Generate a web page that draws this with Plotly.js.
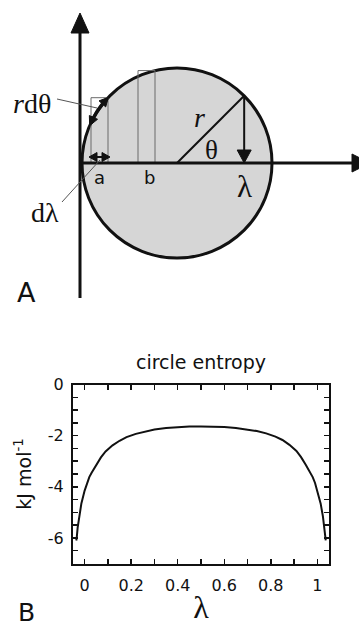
<!DOCTYPE html>
<html>
<head>
<meta charset="utf-8">
<script src="https://cdn.plot.ly/plotly-3.0.1.min.js"></script>
<style>
  html, body { margin: 0; padding: 0; background: #fff; }
  #plot { width: 359px; height: 628px; }
</style>
</head>
<body>
<div id="plot"></div>
<script>
// circle entropy curve
var lambdaVals = [-0.036, -0.034, -0.030, -0.024, -0.014, 0.000, 0.010, 0.020, 0.030, 0.040,
  0.050, 0.070, 0.090, 0.120, 0.150, 0.180, 0.220, 0.260, 0.300, 0.350, 0.400, 0.450, 0.500,
  0.550, 0.600, 0.650, 0.700, 0.740, 0.780, 0.820, 0.850, 0.880, 0.910, 0.930, 0.950, 0.960,
  0.970, 0.980, 0.990, 1.000, 1.014, 1.024, 1.030, 1.034, 1.036];
var entropyVals = [-6.10, -6.00, -5.60, -5.17, -4.65, -4.15, -3.85, -3.62, -3.45, -3.30,
  -3.15, -2.85, -2.62, -2.38, -2.20, -2.06, -1.93, -1.83, -1.76, -1.70, -1.665, -1.645, -1.64,
  -1.645, -1.665, -1.70, -1.76, -1.82, -1.91, -2.04, -2.17, -2.36, -2.60, -2.84, -3.14, -3.30,
  -3.45, -3.62, -3.85, -4.15, -4.65, -5.17, -5.60, -6.00, -6.10];

var xTickVals = [0, 0.2, 0.4, 0.6, 0.8, 1];
var xTickText = ["0", "0.2", "0.4", "0.6", "0.8", "1"];
var yTickVals = [0, -2, -4, -6];
var yTickText = ["0", "-2", "-4", "-6"];

// schematic (panel A), in page pixels
var cx = 177, cy = 163, R = 95;      // circle
var ox = 80, oy = 163;               // axes origin
var stripW = 17;
var stripA = 91, stripB = 138;       // left edges of the strips a and b

var ink = "#111";
var sans = "DejaVu Sans";
var serif = "Liberation Serif";

function circleTop(x) { return cy - Math.sqrt(R * R - (x - cx) * (x - cx)); }
function arcPt(deg) {
  var t = deg * Math.PI / 180;
  return [cx + R * Math.cos(t), cy - R * Math.sin(t)];
}
// filled triangle: tip, unit direction, length, half-width
function tri(tip, dir, L, w) {
  var bx = tip[0] - dir[0] * L, by = tip[1] - dir[1] * L;
  var px = -dir[1], py = dir[0];
  return {
    type: "path", xref: "x2", yref: "y2", layer: "above",
    path: "M" + tip[0] + "," + tip[1] + " L" + (bx + px * w) + "," + (by + py * w) +
      " L" + (bx - px * w) + "," + (by - py * w) + " Z",
    fillcolor: ink, line: {color: ink, width: 1}
  };
}
function seg(x0, y0, x1, y1, w, c) {
  return {type: "line", xref: "x2", yref: "y2", layer: "above",
    x0: x0, y0: y0, x1: x1, y1: y1, line: {color: c || ink, width: w}};
}

var shapes = [];
shapes.push({type: "circle", xref: "x2", yref: "y2", layer: "above",
  x0: cx - R, x1: cx + R, y0: cy - R, y1: cy + R,
  fillcolor: "#d6d6d6", line: {color: ink, width: 3}});
[stripA, stripB].forEach(function(x0) {
  shapes.push({type: "rect", xref: "x2", yref: "y2", layer: "above",
    x0: x0, x1: x0 + stripW, y0: circleTop(x0 + stripW), y1: oy,
    line: {color: "#6a6a6a", width: 1}});
});
// axes with arrows
shapes.push(seg(ox, oy, 352, oy, 3));
shapes.push(tri([370, oy], [1, 0], 18, 9));
shapes.push(seg(ox, 30, ox, 298, 3));
shapes.push(tri([ox, 13], [0, -1], 20, 9));
// radius and projection arrow
var p45 = arcPt(45);
shapes.push(seg(cx, cy, p45[0], p45[1], 2));
shapes.push(seg(p45[0], p45[1], p45[0], 152, 2));
shapes.push(tri([p45[0], oy], [0, 1], 13, 7));
// d-lambda double arrow
shapes.push(seg(95, 157, 105, 157, 2));
shapes.push(tri([89, 157], [-1, 0], 8, 4.5));
shapes.push(tri([110, 157], [1, 0], 8, 4.5));
// r d-theta arc arrow
var a1 = 137.7, a2 = 155.3;
var arcPath = "";
for (var d = a1; d <= a2 + 0.01; d += 0.5) {
  var q = arcPt(d);
  arcPath += (arcPath ? " L" : "M") + q[0].toFixed(2) + "," + q[1].toFixed(2);
}
shapes.push({type: "path", xref: "x2", yref: "y2", layer: "above", path: arcPath,
  line: {color: ink, width: 3.5}});
var t1 = a1 * Math.PI / 180, t2 = a2 * Math.PI / 180;
shapes.push(tri(arcPt(a1 - 1.5), [Math.sin(t1), Math.cos(t1)], 9, 4.5));
shapes.push(tri(arcPt(a2 + 1.5), [-Math.sin(t2), -Math.cos(t2)], 9, 4.5));
// leader lines
shapes.push(seg(57, 99, 97, 108, 1, "#555"));
shapes.push(seg(62, 202, 100, 160, 1, "#555"));

function lab(text, x, y, size, family) {
  return {text: text, x: x, y: y, xref: "x2", yref: "y2", showarrow: false,
    xanchor: "center", yanchor: "middle", font: {family: family, size: size, color: ink}};
}
var annotations = [
  lab("<i>r</i>dθ", 32, 103, 28, serif),
  lab("dλ", 45, 212, 28, serif),
  lab("a", 99, 177, 18, sans),
  lab("b", 149, 177, 18, sans),
  lab("<i>r</i>", 199, 117, 28, serif),
  lab("θ", 211, 150, 27, serif),
  lab("λ", 244, 186, 31, serif),
  lab("A", 26, 292, 27, sans),
  lab("B", 26, 612, 25, sans)
];

var curve = {
  x: lambdaVals, y: entropyVals, type: "scatter", mode: "lines",
  line: {color: ink, width: 2}, hoverinfo: "skip", showlegend: false
};
var canvas = {x: [], y: [], xaxis: "x2", yaxis: "y2", type: "scatter", mode: "lines",
  hoverinfo: "skip", showlegend: false};

var layout = {
  width: 359, height: 628,
  margin: {l: 0, r: 0, t: 0, b: 0},
  paper_bgcolor: "#fff", plot_bgcolor: "rgba(0,0,0,0)",
  showlegend: false,
  title: {text: "circle entropy", x: 201 / 359, y: 1 - 362 / 628,
    xanchor: "center", yanchor: "middle", font: {family: sans, size: 19, color: ink}},
  xaxis: {
    domain: [73 / 359, 329 / 359], range: [-0.05, 1.05], anchor: "y",
    showline: true, linecolor: ink, linewidth: 2, mirror: "allticks",
    ticks: "inside", ticklen: 5, tickwidth: 1.5, tickcolor: ink,
    tickvals: xTickVals, ticktext: xTickText, ticklabelstandoff: 6,
    minor: {dtick: 0.1, tick0: 0, ticks: "inside", ticklen: 5, tickwidth: 1.5, tickcolor: ink},
    showgrid: false, zeroline: false,
    tickfont: {family: sans, size: 16, color: ink},
    title: {text: "λ", standoff: 2, font: {family: serif, size: 32, color: ink}}
  },
  yaxis: {
    domain: [1 - 563.5 / 628, 1 - 384.5 / 628], range: [-7, 0], anchor: "x",
    showline: true, linecolor: ink, linewidth: 2, mirror: "allticks",
    ticks: "inside", ticklen: 5, tickwidth: 1.5, tickcolor: ink,
    tickvals: yTickVals, ticktext: yTickText, ticklabelstandoff: 4,
    minor: {dtick: 0.5, tick0: 0, ticks: "inside", ticklen: 5, tickwidth: 1.5, tickcolor: ink},
    showgrid: false, zeroline: false,
    tickfont: {family: sans, size: 16, color: ink},
    title: {text: "kJ mol<sup>-1</sup>", standoff: 11, font: {family: sans, size: 19, color: ink}}
  },
  xaxis2: {domain: [0, 1], range: [0, 359], anchor: "y2", visible: false, fixedrange: true},
  yaxis2: {domain: [0, 1], range: [628, 0], anchor: "x2", visible: false, fixedrange: true},
  shapes: shapes,
  annotations: annotations
};

Plotly.newPlot("plot", [curve, canvas], layout, {displayModeBar: false, staticPlot: true});
</script>
</body>
</html>
